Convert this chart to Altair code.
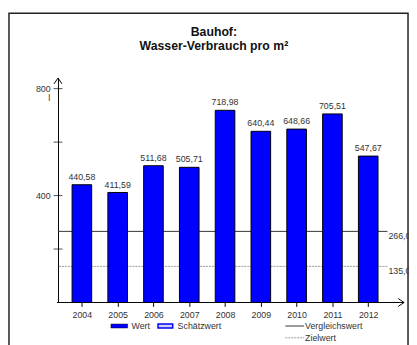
import altair as alt
import pandas as pd

years = [2004, 2005, 2006, 2007, 2008, 2009, 2010, 2011, 2012]
values = [440.58, 411.59, 511.68, 505.71, 718.98, 640.44, 648.66, 705.51, 547.67]
vergleich = 266.0
ziel = 135.0
y_tick_values = [200, 400, 600, 800]
y_label_values = [400, 800]

FONT = "Liberation Sans"
TXT = "#333333"

df = pd.DataFrame({
    "year": years,
    "value": values,
    "label": [f"{v:.2f}".replace(".", ",") for v in values],
})

W, H = 336, 229
xs = alt.Scale(domain=[2003.47, 2012.40], nice=False, zero=False)
ys = alt.Scale(domain=[0, 840], nice=False, zero=True)

one = alt.Data(values=[{"a": 1}])


def text(txt, x, y, **kw):
    opts = dict(font=FONT, fontSize=9, color=TXT, align="left", baseline="middle")
    opts.update(kw)
    return alt.Chart(one).mark_text(**opts).encode(
        x=alt.value(x), y=alt.value(y), text=alt.value(txt))


bars = alt.Chart(df).mark_bar(size=20, fill="#0000ff", stroke="#000000", strokeWidth=1).encode(
    x=alt.X("year:Q", scale=xs, axis=alt.Axis(
        values=years, format="d", domain=False, grid=False, tickSize=4,
        tickColor="#000000", labelPadding=4, labelFontSize=9, labelColor=TXT,
        labelFont=FONT, title=None)),
    y=alt.Y("value:Q", scale=ys, axis=alt.Axis(
        values=y_label_values, grid=False, ticks=False, tickSize=0, labelPadding=8,
        domain=True, domainColor="#000000", domainWidth=1, labelFontSize=9,
        labelColor=TXT, labelFont=FONT, title=None)),
)

value_labels = alt.Chart(df).mark_text(
    dy=-3, baseline="bottom", fontSize=9, font=FONT, color=TXT).encode(
    x=alt.X("year:Q", scale=xs), y=alt.Y("value:Q", scale=ys), text="label:N")

yticks = alt.Chart(pd.DataFrame({"v": y_tick_values})).mark_tick(
    orient="horizontal", size=9, thickness=1, color="#000000").encode(
    x=alt.value(0), y=alt.Y("v:Q", scale=ys))

vrule = alt.Chart(one).mark_rule(color="#333333", strokeWidth=1).encode(
    y=alt.datum(vergleich, scale=ys))
zrule = alt.Chart(one).mark_rule(color="#999999", strokeWidth=1, strokeDash=[2, 1]).encode(
    y=alt.datum(ziel, scale=ys))
vlab = alt.Chart(one).mark_text(font=FONT, fontSize=9, color=TXT, align="left",
                                baseline="top", dx=1, dy=1).encode(
    x=alt.value(W), y=alt.datum(vergleich, scale=ys),
    text=alt.value(f"{vergleich:.1f}".replace(".", ",")))
zlab = alt.Chart(one).mark_text(font=FONT, fontSize=9, color=TXT, align="left",
                                baseline="top", dx=1, dy=1).encode(
    x=alt.value(W), y=alt.datum(ziel, scale=ys),
    text=alt.value(f"{ziel:.1f}".replace(".", ",")))

xaxis_line = alt.Chart(one).mark_rule(color="#000000", strokeWidth=1).encode(
    x=alt.value(-1), x2=alt.value(353), y=alt.value(H))
xarrow = alt.Chart(one).mark_point(shape="M-1,-0.67L0,0L-1,0.67", size=144, filled=False,
                                   stroke="#000000", strokeWidth=1, opacity=1).encode(
    x=alt.value(353), y=alt.value(H))
yarrow = alt.Chart(one).mark_point(shape="M-0.67,1L0,0L0.67,1", size=144, filled=False,
                                   stroke="#000000", strokeWidth=1, opacity=1).encode(
    x=alt.value(0), y=alt.value(0))

frame = alt.Chart(one).mark_rect(fill=None, stroke="#222222", strokeWidth=1.5).encode(
    x=alt.value(-50), x2=alt.value(357), y=alt.value(-66), y2=alt.value(320))

title1 = text("Bauhof:", 159, -47, align="center", fontSize=12.5, fontWeight="bold", color="#111111")
title2 = text("Wasser-Verbrauch pro m²", 159, -33, align="center", fontSize=12.5,
              fontWeight="bold", color="#111111")
unit = text("l", -9, 21, align="center")

leg_wert = alt.Chart(one).mark_rect(fill="#0000ff", stroke="#000000", strokeWidth=0.5).encode(
    x=alt.value(54), x2=alt.value(71), y=alt.value(251), y2=alt.value(255))
leg_schaetz = alt.Chart(one).mark_rect(fill="#d0d0f0", stroke="#0000ff", strokeWidth=1.5).encode(
    x=alt.value(102), x2=alt.value(117), y=alt.value(251), y2=alt.value(255))
leg_v = alt.Chart(one).mark_rule(color="#333333", strokeWidth=1).encode(
    x=alt.value(232), x2=alt.value(251), y=alt.value(253))
leg_z = alt.Chart(one).mark_rule(color="#999999", strokeWidth=1, strokeDash=[2, 1]).encode(
    x=alt.value(232), x2=alt.value(251), y=alt.value(265))
t_wert = text("Wert", 75, 253)
t_schaetz = text("Schätzwert", 122, 253)
t_v = text("Vergleichswert", 252, 253)
t_z = text("Zielwert", 252, 265)

chart = alt.layer(
    frame, zrule, vrule, bars, value_labels, yticks, xaxis_line, xarrow, yarrow,
    vlab, zlab, title1, title2, unit,
    leg_wert, leg_schaetz, leg_v, leg_z, t_wert, t_schaetz, t_v, t_z,
).properties(
    width=W, height=H,
    background="white",
    padding={"left": 51, "top": 68, "right": 22, "bottom": 40},
    autosize=alt.AutoSizeParams(type="none"),
).configure_view(strokeWidth=0, stroke="transparent")

chart.save("out.html", embed_options={"renderer": "svg", "actions": False})
